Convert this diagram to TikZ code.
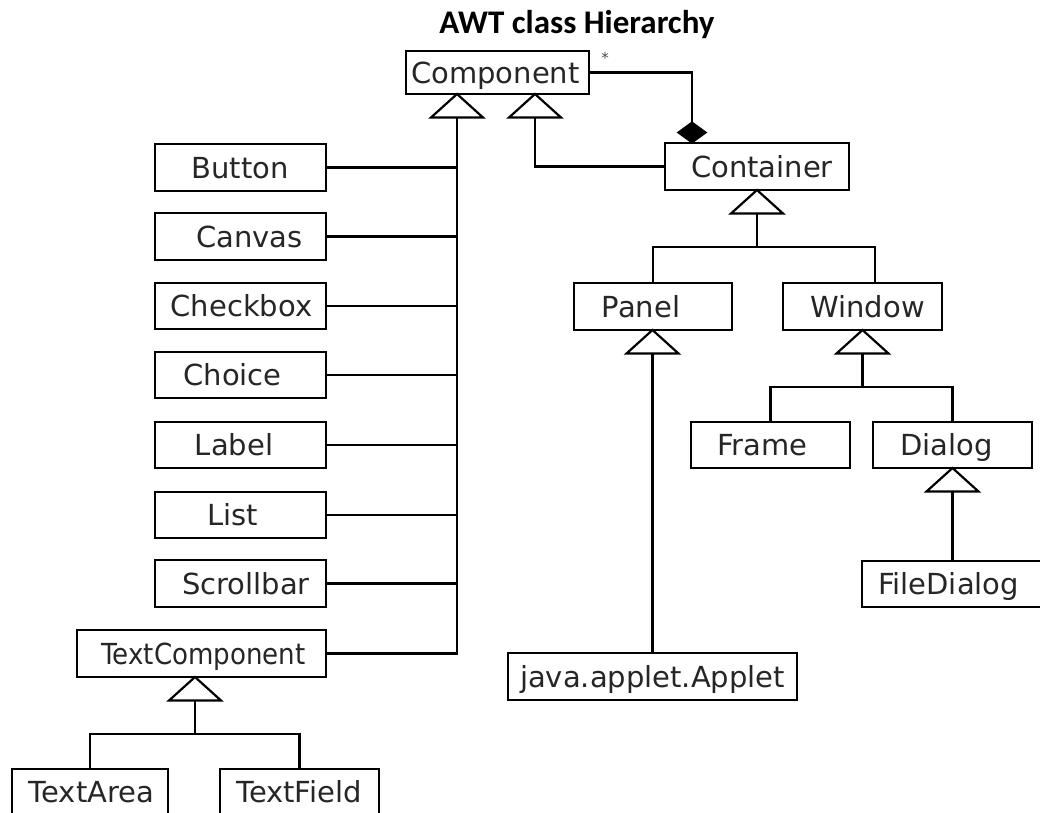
\documentclass[tikz,border=0pt]{standalone}
\usepackage{fontspec}
\newfontfamily\boxfont{DejaVu Sans}
\newfontfamily\titlefont{Carlito}
\usetikzlibrary{calc}
\newcommand\ubox[7]{%
  \node[box, minimum width={(#4-#2)*1pt}, minimum height={(#5-#3)*1pt}] (#1) at ({(#2+#4)/2},{(#3+#5)/2}) {};
  \node[lbl] (#1-t) at (#6,{(#3+#5)/2}) {#7};}
\newcommand\inhtri[2]{%
  \draw[tri] (#2) -- ++(-26,23.5) -- ++(52,0) -- cycle;}
\begin{document}
\begin{tikzpicture}[x=1pt,y=-1pt,
  box/.style={draw, line width=2.4pt, inner sep=0pt, rectangle},
  lbl/.style={font=\boxfont\fontsize{29}{29}\selectfont, inner sep=0pt, text height=21pt, text depth=0pt, text=black!85},
  tri/.style={draw, fill=white, line width=2.2pt, line join=miter},
  conn/.style={draw, line width=2.4pt},
]
\clip (0,0) rectangle (1040,812);
\useasboundingbox (0,0) rectangle (1040,812);

% title
\node[font=\titlefont\bfseries\fontsize{33}{33}\selectfont, inner sep=0pt, text height=21pt, text depth=0pt] (title) at (577,23) {AWT class Hierarchy};

% boxes
\ubox{component}{406}{51}{589}{94}{495.5}{Component}
\ubox{container}{665}{143}{849}{190}{762}{Container}
\ubox{panel}{574}{283}{732}{330}{641}{Panel}
\ubox{window}{783}{283}{942}{330}{867.5}{Window}
\ubox{frame}{691}{422}{850}{468}{762.5}{Frame}
\ubox{dialog}{873}{422}{1032}{468}{946.5}{Dialog}
\ubox{filedialog}{862}{561}{1046}{607}{948.5}{FileDialog}
\ubox{applet}{508}{653}{797}{700}{652.5}{java.applet.Applet}
\ubox{button}{155}{144}{326}{191}{240}{Button}
\ubox{canvas}{155}{213}{326}{260}{249.5}{Canvas}
\ubox{checkbox}{155}{283}{326}{329}{241.5}{Checkbox}
\ubox{choice}{155}{352}{326}{398}{232.5}{Choice}
\ubox{label}{155}{422}{326}{468}{234}{Label}
\ubox{list}{155}{492}{326}{538}{232.5}{List}
\ubox{scrollbar}{155}{560}{326}{607}{246}{Scrollbar}
\node[box, minimum width=249pt, minimum height=47pt] (textcomp) at (201.5,653.5) {};
\node[lbl, xscale=0.9] (textcomp-t) at (203.5,653.5) {TextComponent};
\ubox{textarea}{12}{769}{168}{815}{91.5}{TextArea}
\ubox{textfield}{220}{769}{379}{815}{299}{TextField}

% multiplicity
\node[font=\boxfont\fontsize{15}{15}\selectfont, inner sep=0pt, text=black!70] (star) at (605,58) {*};

% named points
\coordinate (ctA) at (457,94);
\coordinate (ctAb) at (457,117.5);
\coordinate (ctB) at (535,94);
\coordinate (ctBb) at (535,117.5);
\coordinate (diaT) at (692,122);
\coordinate (cnA) at (757,190);
\coordinate (cnb) at (757,213.5);
\coordinate (winTop) at (875,283);
\coordinate (pnA) at (652.5,330);
\coordinate (pnb) at (652.5,353.5);
\coordinate (wnA) at (862.5,330);
\coordinate (wnb) at (862.5,353.5);
\coordinate (dgA) at (952.5,468);
\coordinate (dgb) at (952.5,491.5);
\coordinate (tcA) at (195,677);
\coordinate (tcb) at (195,700.5);

% connectors
\draw[conn] (ctAb) |- (textcomp.east);
\foreach \n in {button,canvas,checkbox,choice,label,list,scrollbar}
  \draw[conn] (\n.east) -- (\n.east -| ctAb);
\draw[conn] (container.west) -| (ctBb);
\draw[conn] (component.east) -| (diaT);
\draw[conn] (cnb) -- ++(0,33.5) coordinate (cnJ);
\draw[conn] (panel.north) |- (cnJ) -| (winTop);
\draw[conn] (pnb) -- (pnb |- applet.north);
\draw[conn] (wnb) -- ++(0,33.5) coordinate (wnJ);
\draw[conn] (frame.north) |- (wnJ) -| (dialog.north);
\draw[conn] (dgb) -- (dgb |- filedialog.north);
\draw[conn] (tcb) -- ++(0,33.5) coordinate (tcJ);
\draw[conn] (textarea.north) |- (tcJ) -| (textfield.north);

% composition diamond
\draw[fill=black, line width=1pt, line join=miter] (692,143) -- (706.5,132.5) -- (diaT) -- (677.5,132.5) -- cycle;

% inheritance triangles
\inhtri{t1}{ctA}
\inhtri{t2}{ctB}
\inhtri{t3}{cnA}
\inhtri{t4}{pnA}
\inhtri{t5}{wnA}
\inhtri{t6}{dgA}
\inhtri{t7}{tcA}
\end{tikzpicture}
\end{document}
